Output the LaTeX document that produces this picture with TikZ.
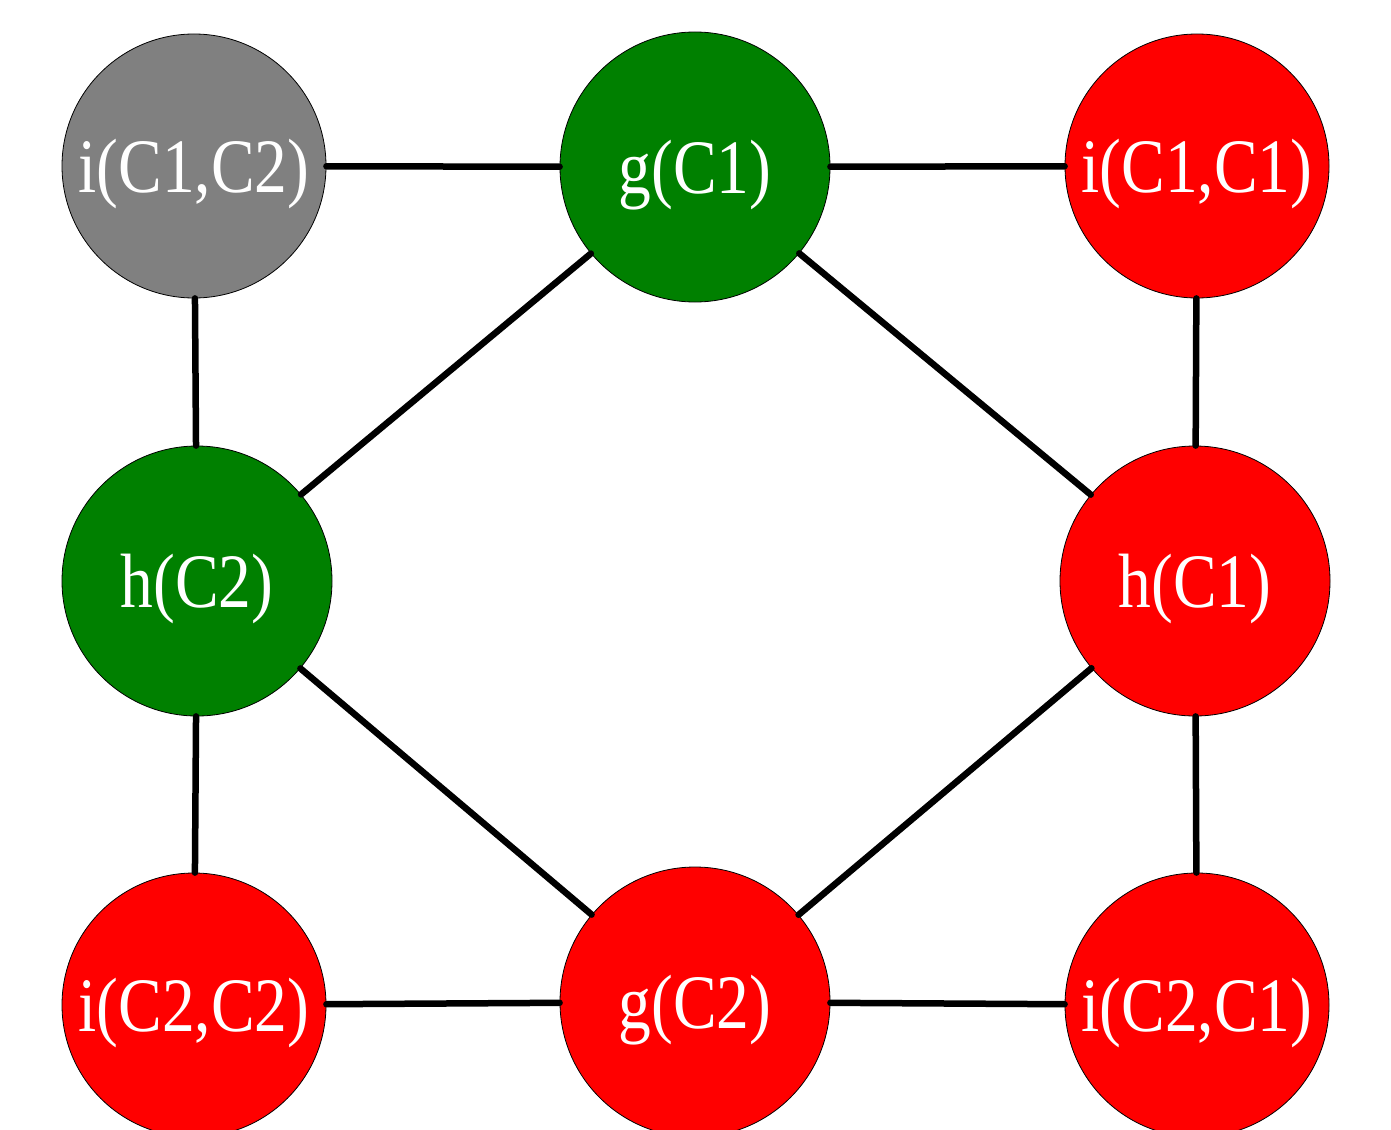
\documentclass[tikz,border=0pt]{standalone}
\usepackage{fontspec}
\newfontfamily\labelfont[FakeStretch=0.85]{Liberation Serif}
\begin{document}
\begin{tikzpicture}[x=1pt,y=-1pt,
  vnode/.style={circle,draw=black,line width=0.8pt,inner sep=0pt,text=white,
    text height=68pt,text depth=16pt,
    font=\labelfont\fontsize{77}{90}\selectfont},
  small/.style={minimum size=264pt},
  big/.style={minimum size=270pt},
  gr/.style={fill=gray},
  gn/.style={fill={rgb,255:red,0;green,128;blue,0}},
  rd/.style={fill=red},
  edge/.style={line width=6.5pt,line cap=round}]
\useasboundingbox (0,0) rectangle (1391,1129);
\clip (0,0) rectangle (1391,1129);
\node[vnode,small,gr] (i12) at (194,166) {i(C1,C2)};
\node[vnode,big,gn] (g1) at (695,167) {g(C1)};
\node[vnode,small,rd] (i11) at (1197,166) {i(C1,C1)};
\node[vnode,big,gn] (h2) at (197,581) {h(C2)};
\node[vnode,big,rd] (h1) at (1195,581) {h(C1)};
\node[vnode,small,rd] (i22) at (194,1005) {i(C2,C2)};
\node[vnode,big,rd] (g2) at (695,1002) {g(C2)};
\node[vnode,small,rd] (i21) at (1197,1005) {i(C2,C1)};
\draw[edge] (i12) -- (g1);
\draw[edge] (g1) -- (i11);
\draw[edge] (i12) -- (h2);
\draw[edge] (g1) -- (h2);
\draw[edge] (g1) -- (h1);
\draw[edge] (i11) -- (h1);
\draw[edge] (h2) -- (i22);
\draw[edge] (h2) -- (g2);
\draw[edge] (h1) -- (g2);
\draw[edge] (h1) -- (i21);
\draw[edge] (i22) -- (g2);
\draw[edge] (g2) -- (i21);
\end{tikzpicture}
\end{document}
